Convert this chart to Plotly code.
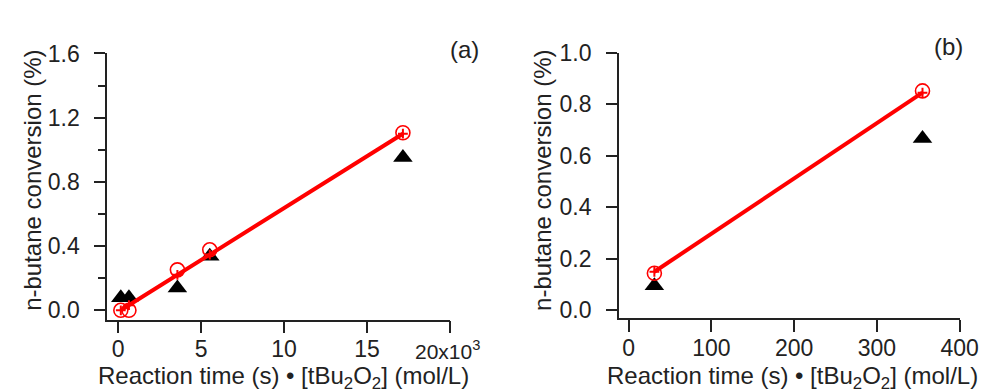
import plotly.graph_objects as go

# panel (a): reaction time * [tBu2O2]  vs  n-butane conversion (%)
xa = [160, 650, 3570, 5520, 17160]
ya_circle = [0.0, 0.0, 0.252, 0.377, 1.106]
ya_triangle = [0.079, 0.079, 0.139, 0.337, 0.952]
ya_fit = [0.0, 0.032, 0.221, 0.347, 1.10]

# panel (b)
xb = [31, 355]
yb_circle = [0.144, 0.852]
yb_triangle = [0.096, 0.667]
yb_fit = [0.15, 0.845]

xa_ticks = [0, 5000, 10000, 15000, 20000]
xa_ticktext = ["0", "5", "10", "15", ""]

FONT = "Liberation Sans, Arial, sans-serif"
RED = "#ff0000"
INK = "#222222"

fig = go.Figure()

def add_panel(fig, x, yc, yt, yf, xref, yref):
    fig.add_trace(go.Scatter(x=x, y=yt, mode="markers", xaxis=xref, yaxis=yref,
                             marker=dict(symbol="triangle-up", size=17, color="black")))
    fig.add_trace(go.Scatter(x=x, y=yc, mode="markers", xaxis=xref, yaxis=yref,
                             marker=dict(symbol="circle-open", size=14, color=RED,
                                         line=dict(width=1.6, color=RED))))
    fig.add_trace(go.Scatter(x=x, y=yf, mode="lines+markers", xaxis=xref, yaxis=yref,
                             line=dict(color=RED, width=4),
                             marker=dict(symbol="cross-thin", size=7,
                                         line=dict(width=2, color=RED))))

add_panel(fig, xa, ya_circle, ya_triangle, ya_fit, "x", "y")
add_panel(fig, xb, yb_circle, yb_triangle, yb_fit, "x2", "y2")

axis_common = dict(showline=True, linecolor=INK, linewidth=1.5, ticks="outside",
                   tickcolor=INK, tickwidth=1.5, showgrid=False, zeroline=False,
                   tickfont=dict(family=FONT, size=23, color=INK))

fig.update_layout(
    width=994, height=392,
    margin=dict(l=0, r=0, t=0, b=0),
    paper_bgcolor="white", plot_bgcolor="white",
    showlegend=False,
    xaxis=dict(axis_common, domain=[101/994, 451/994], range=[-668, 20020],
               tickvals=xa_ticks, ticktext=xa_ticktext, ticklen=12, anchor="y",
               ticklabelstandoff=-4),
    yaxis=dict(axis_common, domain=[1-313/392, 1-33.5/392], range=[-0.058, 1.603],
               tickvals=[0, 0.4, 0.8, 1.2, 1.6], ticktext=["0.0", "0.4", "0.8", "1.2", "1.6"],
               ticklen=11, anchor="x", ticklabelstandoff=10,
               minor=dict(dtick=0.2, ticks="outside", ticklen=7, tickcolor=INK, tickwidth=1.5)),
    xaxis2=dict(axis_common, domain=[622.7/994, 970.7/994], range=[-12, 400.5],
                dtick=100, ticklen=12, anchor="y2", ticklabelstandoff=-4),
    yaxis2=dict(axis_common, domain=[1-311.7/392, 1-33.3/392], range=[-0.031, 1.0],
                dtick=0.2, tickformat=".1f", ticklen=11, anchor="x2", ticklabelstandoff=10),
)

title_font = dict(family=FONT, size=24, color=INK)
xtitle = "Reaction time (s) \u2022 [tBu<sub>2</sub>O<sub>2</sub>] (mol/L)"
ytitle = "n-butane conversion (%)"

annotations = [
    dict(text=xtitle, x=281/994, y=1-374/392),
    dict(text=xtitle, x=800/994, y=1-374/392),
    dict(text=ytitle, x=25/994, y=1-167/392, textangle=-90),
    dict(text=ytitle, x=545/994, y=1-167/392, textangle=-90),
    dict(text="(a)", x=465/994, y=1-30/392),
    dict(text="(b)", x=959/994, y=1-27/392),
]
for a in annotations:
    fig.add_annotation(xref="paper", yref="paper", showarrow=False,
                       xanchor="center", yanchor="middle", font=title_font, **a)

fig.add_annotation(xref="paper", yref="paper", showarrow=False,
                   x=413/994, y=1-345/392, xanchor="left", yanchor="middle",
                   text="20x10<sup>3</sup>", font=dict(family=FONT, size=21, color=INK))

fig.write_html("out.html")
